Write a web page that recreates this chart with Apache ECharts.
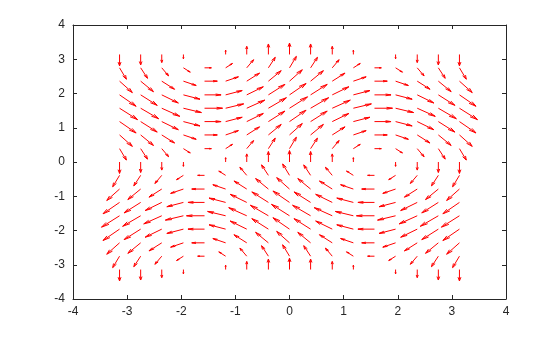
<!DOCTYPE html>
<html><head><meta charset="utf-8">
<script src="https://cdn.jsdelivr.net/npm/echarts@6/dist/echarts.min.js"></script>
<style>html,body{margin:0;padding:0;background:#fff}#c{width:560px;height:337px}</style>
</head><body><div id="c"></div>
<script>
// grid positions (x and y): -pi..pi in steps of pi/8
var xs = [-3.14,-2.75,-2.36,-1.96,-1.57,-1.18,-0.79,-0.39,0,0.39,0.79,1.18,1.57,1.96,2.36,2.75,3.14];
var ys = [-3.14,-2.75,-2.36,-1.96,-1.57,-1.18,-0.79,-0.39,0,0.39,0.79,1.18,1.57,1.96,2.36,2.75,3.14];
// horizontal component per row (depends on y)
var uByRow = [0,-0.38,-0.71,-0.92,-1,-0.92,-0.71,-0.38,0,0.38,0.71,0.92,1,0.92,0.71,0.38,0];
// vertical component per column (depends on x)
var vByCol = [-1,-0.92,-0.71,-0.38,0,0.38,0.71,0.92,1,0.92,0.71,0.38,0,-0.38,-0.71,-0.92,-1];
var xTicks = [-4,-3,-2,-1,0,1,2,3,4];
var yTicks = [-4,-3,-2,-1,0,1,2,3,4];

var data = [];
for (var j = 0; j < ys.length; j++) {
  for (var i = 0; i < xs.length; i++) {
    data.push([xs[i], ys[j], uByRow[j], vByCol[i]]);
  }
}
var SCALE = 0.3326, ALPHA = 0.33, BETA = 0.25;

var chart = echarts.init(document.getElementById('c'), null, {renderer:'canvas'});
var font = 'Liberation Sans, Arial, sans-serif';
function axisCommon(extra){
  var a = {
    type:'value', min:-4, max:4, interval:1,
    axisLine:{show:true, onZero:false, lineStyle:{color:'#262626', width:1}},
    axisTick:{show:true, inside:true, length:4, lineStyle:{color:'#262626'}},
    splitLine:{show:false},
    axisLabel:{show:true, color:'#262626', fontSize:12, fontFamily:font}
  };
  for (var k in extra) a[k] = extra[k];
  return a;
}
chart.setOption({
  animation:false,
  grid:{left:73, top:25, width:433, height:274, containLabel:false},
  xAxis:[
    axisCommon({position:'bottom', axisLabel:{show:true,color:'#262626',fontSize:12,fontFamily:font,margin:7,
      formatter:function(v){return xTicks.indexOf(v)>=0 ? String(v) : '';}}}),
    axisCommon({position:'top', axisLabel:{show:false}})
  ],
  yAxis:[
    axisCommon({position:'left', axisLabel:{show:true,color:'#262626',fontSize:12,fontFamily:font,margin:8,
      formatter:function(v){return yTicks.indexOf(v)>=0 ? String(v) : '';}}}),
    axisCommon({position:'right', axisLabel:{show:false}})
  ],
  series:[{
    type:'custom',
    xAxisIndex:0, yAxisIndex:0,
    data:data,
    clip:false,
    renderItem:function(params, api){
      var x = api.value(0), y = api.value(1);
      var u = api.value(2)*SCALE, v = api.value(3)*SCALE;
      if (Math.abs(u) < 1e-9 && Math.abs(v) < 1e-9) return null;
      var p0 = api.coord([x, y]);
      var p1 = api.coord([x+u, y+v]);
      var h1 = api.coord([x+u-ALPHA*(u+BETA*v), y+v-ALPHA*(v-BETA*u)]);
      var h2 = api.coord([x+u-ALPHA*(u-BETA*v), y+v-ALPHA*(v+BETA*u)]);
      var st = {stroke:'#ff0000', lineWidth:1, fill:null};
      return {type:'group', children:[
        {type:'polyline', shape:{points:[p0,p1]}, style:st},
        {type:'polyline', shape:{points:[h1,p1,h2]}, style:st}
      ]};
    }
  }]
});
</script></body></html>
